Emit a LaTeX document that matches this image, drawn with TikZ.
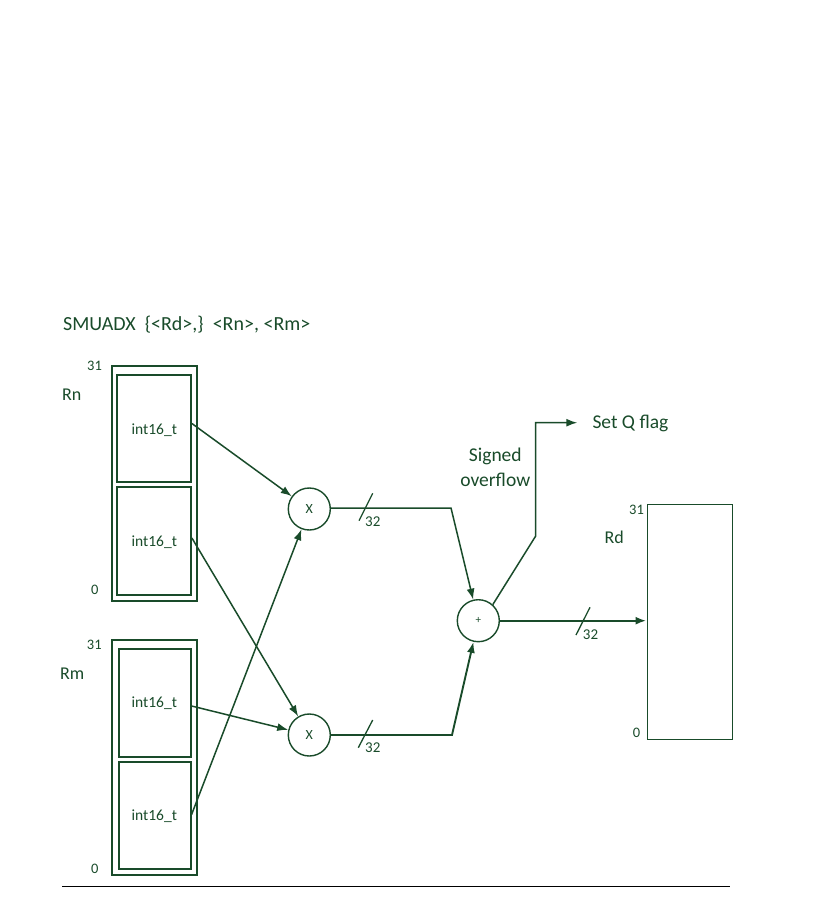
\documentclass[tikz,border=0pt]{standalone}
\usepackage{fontspec}
\setmainfont{Carlito}
\usetikzlibrary{arrows.meta,calc}
\definecolor{dg}{RGB}{25,75,42}
\tikzset{
  fs/.style={font=\fontsize{#1}{#1}\selectfont},
  lbl/.style={text=dg,inner sep=0pt,anchor=base west},
  outerbox/.style={draw=dg,line width=1.7pt,inner sep=0pt},
  innerbox/.style={draw=dg,line width=1.8pt,inner sep=0pt,text=dg,font=\fontsize{15.5}{16}\selectfont},
  op/.style={circle,draw=dg,line width=1.4pt,minimum size=42pt,inner sep=0pt,text=dg},
  arr/.style={draw=dg,line width=1.5pt,-{Latex[length=11pt,width=8pt]}},
  wire/.style={draw=dg,line width=1.5pt},
  slash/.style={draw=dg,line width=1.3pt}
}
\begin{document}
\begin{tikzpicture}[x=1pt,y=-1pt]
\useasboundingbox (0,0) rectangle (834,919);

% title
\node[lbl,fs=20] (title) at (63,330) {SMUADX\ \ \{<Rd>,\}\ \ <Rn>, <Rm>};

% Rn register
\node[outerbox,minimum width=85pt,minimum height=235pt] (rn) at (154.2,483.2) {};
\node[innerbox,minimum width=74pt,minimum height=107pt] (rnA) at (154,428.5) {};
\node[innerbox,minimum width=74pt,minimum height=108pt] (rnB) at (154,541) {};
\node[lbl,fs=15.5,anchor=base] (rnAt) at (154.3,434) {int16\_t};
\node[lbl,fs=15.5,anchor=base] (rnBt) at (154.3,546) {int16\_t};
\node[lbl,fs=18] (rnl) at (62,400.7) {Rn};
\node[lbl,fs=14.5] (rn31) at (87,370.7) {31};
\node[lbl,fs=14.5] (rn0) at (91,594.3) {0};

% Rm register
\node[outerbox,minimum width=84.5pt,minimum height=235pt] (rm) at (154.5,757.5) {};
\node[innerbox,minimum width=72pt,minimum height=107.5pt] (rmA) at (154.7,703) {};
\node[innerbox,minimum width=72pt,minimum height=107.5pt] (rmB) at (154.7,815.5) {};
\node[lbl,fs=15.5,anchor=base] (rmAt) at (154.3,707.3) {int16\_t};
\node[lbl,fs=15.5,anchor=base] (rmBt) at (154.3,820.7) {int16\_t};
\node[lbl,fs=18] (rml) at (60,679) {Rm};
\node[lbl,fs=14.5] (rm31) at (86.7,649.3) {31};
\node[lbl,fs=14.5] (rm0) at (91,873.3) {0};

% multipliers and adder
\node[op,font=\fontsize{14}{14}\selectfont] (mul1) at (309.3,509) {X};
\node[op,font=\fontsize{14}{14}\selectfont] (mul2) at (309.3,735) {X};
\node[op,font=\fontsize{11}{11}\selectfont] (add) at (478.3,620.7) {+};

% Rd register
\node[draw=dg,line width=1.6pt,inner sep=0pt,minimum width=85pt,minimum height=235pt] (rd) at (689.8,621.8) {};
\node[lbl,fs=18] (rdl) at (604.3,543.3) {Rd};
\node[lbl,fs=14.5] (rd31) at (629,514) {31};
\node[lbl,fs=14.5] (rd0) at (632.7,737.3) {0};

% input connectors
\draw[arr] ([yshift=5pt]rnA.east) -- (mul1);
\draw[arr] ([yshift=3pt]rnB.east) -- (mul2);
\draw[arr] ([yshift=-3pt]rmA.east) -- (mul2);
\draw[arr] ([yshift=1pt]rmB.east) -- (mul1);

% multiplier outputs
\coordinate (k1) at (451,508);
\coordinate (k2) at (452,735);
\draw[arr] (mul1.east |- k1) -- (k1) -- (add);
\draw[arr,line width=1.9pt] (mul2.east) -- (k2) -- (add);
\draw[slash] (359,520.7) -- (372.7,493.3);
\draw[slash] (358.3,747.7) -- (372.7,720);
\node[lbl,fs=15] (w1) at (365,526.7) {32};
\node[lbl,fs=15] (w2) at (365,752.7) {32};

% adder output
\draw[arr,line width=2.4pt] (add.east) -- (add.east -| rd.west);
\draw[slash] (576,635) -- (590,607.3);
\node[lbl,fs=15] (w3) at (582.7,639.3) {32};

% overflow
\node[lbl,fs=19.5] (setq) at (592.3,428.3) {Set Q flag};
\coordinate (o1) at (535.7,536);
\coordinate (o2) at (535.7,422.7);
\draw[arr] (add.48) -- (o1) -- (o2) -- ([xshift=-15pt]setq.west |- o2);
\node[lbl,fs=19.5,anchor=base] (sig1) at (495.3,461.7) {Signed};
\node[lbl,fs=19.5,anchor=base] (sig2) at (495.3,486) {overflow};

% bottom rule
\draw[black,line width=0.8pt] (62,886) -- (730,886);
\end{tikzpicture}
\end{document}
